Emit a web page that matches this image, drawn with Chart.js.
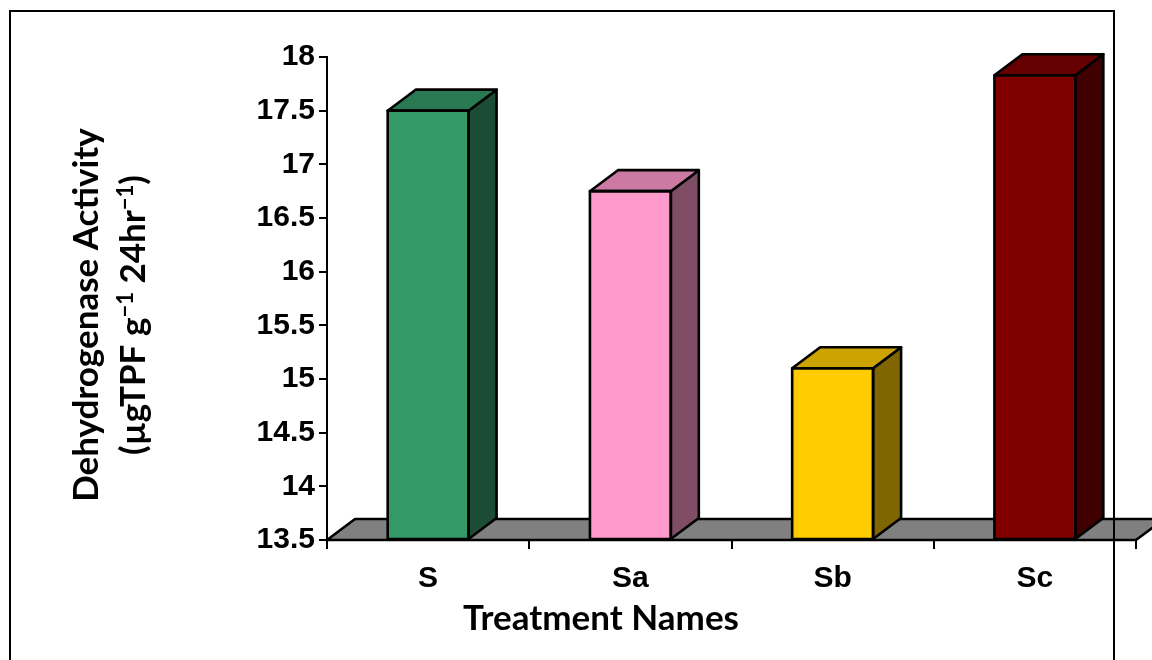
<!DOCTYPE html>
<html>
<head>
<meta charset="utf-8">
<script src="https://cdn.jsdelivr.net/npm/chart.js@4.4.0/dist/chart.umd.min.js"></script>
<style>
  html, body { margin: 0; padding: 0; background: #ffffff; }
  #wrap { width: 1152px; height: 660px; position: relative; }
  canvas { display: block; }
</style>
</head>
<body>
<div id="wrap"><canvas id="chart" width="1152" height="660"></canvas></div>
<script>
// Dehydrogenase activity per treatment
const categories = ['S', 'Sa', 'Sb', 'Sc'];
const activity = [17.5, 16.75, 15.1, 17.83];
const yTickLabels = ['13.5', '14', '14.5', '15', '15.5', '16', '16.5', '17', '17.5', '18'];

// Face colours: front, top (lit) and side (shaded)
const frontColors = ['#339966', '#FF99CC', '#FFCC00', '#800000'];
const topColors   = ['#297a52', '#cc7aa3', '#cca300', '#660000'];
const sideColors  = ['#1c4d34', '#804d66', '#806600', '#400000'];

const xTitle = 'Treatment Names';
const yTitleLine1 = 'Dehydrogenase Activity';

// Oblique depth of the 3D extrusion
const DX = 28, DY = 21;
const EDGE = 2.6;
const TITLE_FONT = 'bold 35px Lato, "Open Sans", sans-serif';
const SUP_FONT = 'bold 22px Lato, "Open Sans", sans-serif';
const TICK_FONT = { family: '"Liberation Sans", Arial, sans-serif', size: 30, weight: 'bold' };

function polygon(ctx, pts, fill) {
  ctx.beginPath();
  ctx.moveTo(pts[0][0], pts[0][1]);
  for (let i = 1; i < pts.length; i++) ctx.lineTo(pts[i][0], pts[i][1]);
  ctx.closePath();
  ctx.fillStyle = fill;
  ctx.fill();
  ctx.stroke();
}

// Grey floor under the bars
const floorPlugin = {
  id: 'floor',
  beforeDatasetsDraw(chart) {
    const { ctx, chartArea: a, scales: { y } } = chart;
    const yb = y.getPixelForValue(y.min);
    ctx.save();
    ctx.lineWidth = EDGE;
    ctx.strokeStyle = '#000';
    ctx.lineJoin = 'round';
    polygon(ctx, [[a.left, yb], [a.left + DX, yb - DY], [a.right + DX, yb - DY], [a.right, yb]], '#808080');
    ctx.restore();
  }
};

// Side and top faces of each bar, plus the front outline
const boxPlugin = {
  id: 'box3d',
  afterDatasetsDraw(chart) {
    const { ctx } = chart;
    const meta = chart.getDatasetMeta(0);
    ctx.save();
    ctx.lineWidth = EDGE;
    ctx.strokeStyle = '#000';
    ctx.lineJoin = 'round';
    meta.data.forEach((bar, i) => {
      const p = bar.getProps(['x', 'y', 'base', 'width'], true);
      const l = p.x - p.width / 2, r = p.x + p.width / 2, t = p.y, b = p.base;
      polygon(ctx, [[r, t], [r + DX, t - DY], [r + DX, b - DY], [r, b]], sideColors[i]);
      polygon(ctx, [[l, t], [l + DX, t - DY], [r + DX, t - DY], [r, t]], topColors[i]);
      ctx.strokeRect(l, t, p.width, b - t);
    });
    ctx.restore();
  }
};

// Axis titles and outer frame
const titlePlugin = {
  id: 'titles',
  afterDraw(chart) {
    const { ctx } = chart;
    ctx.save();
    ctx.fillStyle = '#000';
    ctx.font = TITLE_FONT;
    ctx.textBaseline = 'alphabetic';
    ctx.textAlign = 'center';
    ctx.fillText(xTitle, 601, 630);

    // Rotated y title: two lines, the second with superscripts
    ctx.save();
    ctx.translate(98, 315);
    ctx.rotate(-Math.PI / 2);
    ctx.fillText(yTitleLine1, 0, 0);
    ctx.restore();

    const runs = [
      ['(\u00b5gTPF g', false], ['\u22121', true], [' 24hr', false], ['\u22121', true], [')', false]
    ];
    ctx.save();
    ctx.translate(145, 315);
    ctx.rotate(-Math.PI / 2);
    ctx.textAlign = 'left';
    let total = 0;
    runs.forEach(([s, sup]) => { ctx.font = sup ? SUP_FONT : TITLE_FONT; total += ctx.measureText(s).width; });
    let x = -total / 2;
    runs.forEach(([s, sup]) => {
      ctx.font = sup ? SUP_FONT : TITLE_FONT;
      ctx.fillText(s, x, sup ? -12 : 0);
      x += ctx.measureText(s).width;
    });
    ctx.restore();

    ctx.lineWidth = 2;
    ctx.strokeStyle = '#000';
    ctx.strokeRect(10, 11, 1104, 700);
    ctx.restore();
  }
};

new Chart(document.getElementById('chart'), {
  type: 'bar',
  data: {
    labels: categories,
    datasets: [{
      data: activity,
      base: 13.5,
      backgroundColor: frontColors,
      borderColor: '#000',
      borderWidth: 0,
      borderSkipped: false,
      categoryPercentage: 1,
      barPercentage: 0.4,
      clip: false
    }]
  },
  options: {
    responsive: false,
    animation: false,
    events: [],
    layout: { padding: { left: 0, right: 16, top: 57, bottom: 0 } },
    plugins: { legend: { display: false }, tooltip: { enabled: false } },
    scales: {
      x: {
        grid: { offset: true, drawOnChartArea: false, color: '#000', lineWidth: 2, tickLength: 9 },
        border: { display: true, color: '#000', width: 2 },
        ticks: { color: '#000', padding: 12, font: TICK_FONT },
        afterFit(scale) { scale.height = 120; }
      },
      y: {
        min: 13.5,
        max: 18,
        ticks: {
          stepSize: 0.5,
          color: '#000',
          padding: 4,
          font: TICK_FONT,
          callback: (v, i) => yTickLabels[i]
        },
        grid: { drawOnChartArea: false, color: '#000', lineWidth: 2, tickLength: 8 },
        border: { display: true, color: '#000', width: 2 },
        afterFit(scale) { scale.width = 327; }
      }
    }
  },
  plugins: [floorPlugin, boxPlugin, titlePlugin]
});
</script>
</body>
</html>
